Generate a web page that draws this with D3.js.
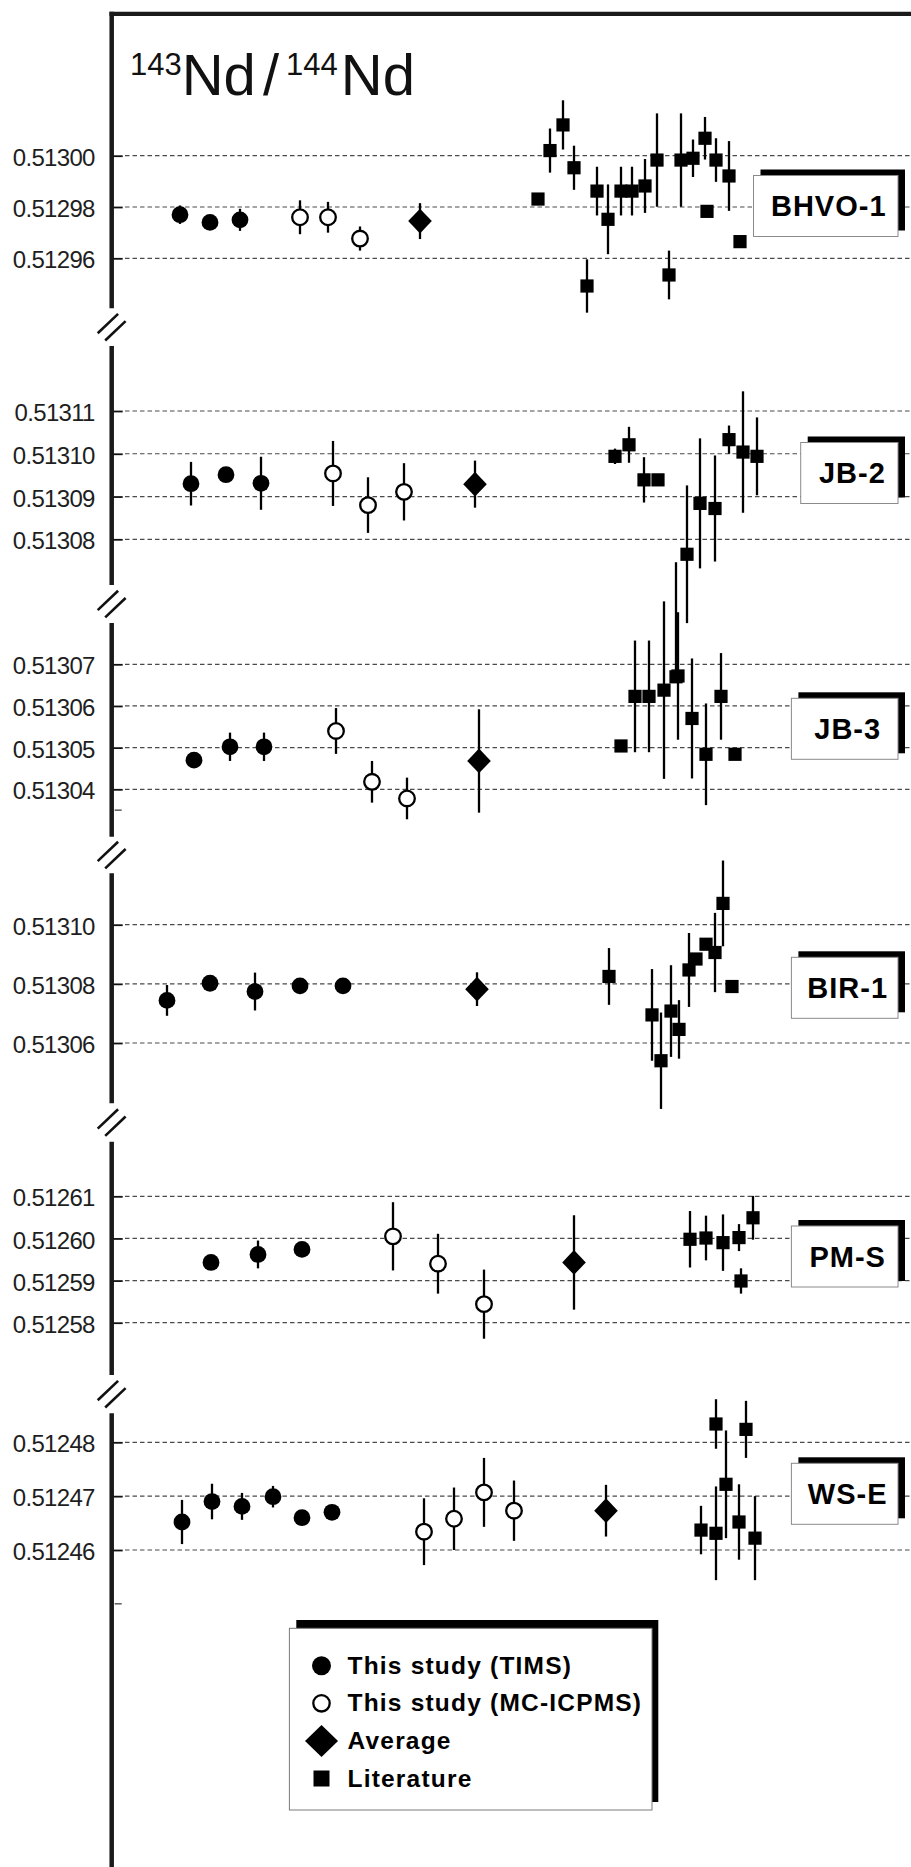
<!DOCTYPE html>
<html>
<head>
<meta charset="utf-8">
<script src="https://cdn.jsdelivr.net/npm/d3@7"></script>
<style>
  body { margin: 0; background: #fff; }
  svg { display: block; }
</style>
</head>
<body>
<svg id="chart" width="911" height="1867"></svg>
<script>
// Reference materials, top to bottom
const sampleNames = ["BHVO-1", "JB-2", "JB-3", "BIR-1", "PM-S", "WS-E"];

// Labelled gridline values for each panel
const ticksBHVO = [0.51300, 0.51298, 0.51296];
const ticksJB2  = [0.51311, 0.51310, 0.51309, 0.51308];
const ticksJB3  = [0.51307, 0.51306, 0.51305, 0.51304];
const ticksBIR  = [0.51310, 0.51308, 0.51306];
const ticksPMS  = [0.51261, 0.51260, 0.51259, 0.51258];
const ticksWSE  = [0.51248, 0.51247, 0.51246];

// Unlabelled minor ticks
const minorJB3 = [0.513035];
const minorWSE = [0.51245];

// Each point: [plot position, 143Nd/144Nd, error] or [pos, value, error below, error above]
const bhvoTims = [[6.9, 0.5129770, 0.0000036], [9.9, 0.5129740, 0], [12.9, 0.5129750, 0.0000043]];
const bhvoMc   = [[18.9, 0.5129760, 0.0000066], [21.7, 0.5129760, 0.0000060], [24.9, 0.5129677, 0.0000047]];
const bhvoAvg  = [[30.9, 0.5129745, 0.0000070]];
const bhvoLit  = [
  [42.7, 0.5129831, 0], [43.9, 0.5130020, 0.0000086], [45.2, 0.5130120, 0.0000096],
  [46.3, 0.5129953, 0.0000086], [47.6, 0.5129492, 0.0000104], [48.6, 0.5129862, 0.0000095],
  [49.7, 0.5129752, 0.0000136], [51.0, 0.5129862, 0.0000095], [52.1, 0.5129862, 0.0000095],
  [53.4, 0.5129882, 0.0000105], [54.6, 0.5129983, 0.0000182], [55.8, 0.5129535, 0.0000095],
  [57.0, 0.5129983, 0.0000182], [58.2, 0.5129990, 0.0000073], [59.4, 0.5130068, 0.0000083],
  [59.6, 0.5129783, 0], [60.5, 0.5129983, 0.0000085], [61.8, 0.5129921, 0.0000136],
  [62.9, 0.5129665, 0]
];

const jb2Tims = [[8.0, 0.5130930, 0.0000051], [11.5, 0.5130951, 0], [15.0, 0.5130931, 0.0000062]];
const jb2Mc   = [[22.2, 0.5130954, 0.0000076], [25.7, 0.5130880, 0.0000065], [29.3, 0.5130911, 0.0000067]];
const jb2Avg  = [[36.4, 0.5130929, 0.0000055]];
const jb2Lit  = [
  [50.4, 0.5130994, 0.0000018], [51.8, 0.5131021, 0.0000042], [53.3, 0.5130939, 0.0000053],
  [54.7, 0.5130939, 0], [57.6, 0.5130765, 0.0000161], [58.9, 0.5130884, 0.0000152],
  [60.4, 0.5130872, 0.0000124], [61.8, 0.5131033, 0.0000033], [63.2, 0.5131004, 0.0000142],
  [64.6, 0.5130994, 0.0000091]
];

const jb3Tims = [[8.3, 0.5130470, 0], [11.9, 0.5130502, 0.0000034], [15.3, 0.5130502, 0.0000034]];
const jb3Mc   = [[22.5, 0.5130540, 0.0000055], [26.1, 0.5130418, 0.0000050], [29.6, 0.5130378, 0.0000050]];
const jb3Avg  = [[36.8, 0.5130468, 0.0000124]];
const jb3Lit  = [
  [51.0, 0.5130504, 0], [52.4, 0.5130623, 0.0000134], [53.8, 0.5130623, 0.0000134],
  [55.3, 0.5130638, 0.0000213], [56.5, 0.5130670, 0, 0.0000275], [56.7, 0.5130672, 0.0000153],
  [58.1, 0.5130570, 0.0000144], [59.5, 0.5130484, 0.0000122], [61.0, 0.5130623, 0.0000104],
  [62.4, 0.5130484, 0]
];

const birTims = [[5.6, 0.5130744, 0.0000052], [9.9, 0.5130802, 0], [14.4, 0.5130774, 0.0000064],
                 [18.9, 0.5130793, 0], [23.2, 0.5130793, 0]];
const birMc   = [];
const birAvg  = [[36.6, 0.5130782, 0.0000057]];
const birLit  = [
  [49.8, 0.5130825, 0.0000096], [54.1, 0.5130695, 0.0000155], [55.0, 0.5130540, 0.0000163],
  [56.0, 0.5130708, 0.0000155], [56.8, 0.5130646, 0.0000099], [57.8, 0.5130847, 0.0000125],
  [58.5, 0.5130884, 0], [59.5, 0.5130934, 0], [60.4, 0.5130906, 0.0000134],
  [61.2, 0.5131072, 0.0000145], [62.1, 0.5130791, 0]
];

const pmsTims = [[10.0, 0.5125943, 0], [14.7, 0.5125962, 0.0000033], [19.1, 0.5125974, 0]];
const pmsMc   = [[28.2, 0.5126005, 0.0000081], [32.7, 0.5125940, 0.0000071], [37.3, 0.5125844, 0.0000082]];
const pmsAvg  = [[46.3, 0.5125943, 0.0000112]];
const pmsLit  = [
  [57.9, 0.5125998, 0.0000067], [59.5, 0.5126001, 0.0000053], [61.2, 0.5125990, 0.0000067],
  [62.8, 0.5126002, 0.0000032], [63.0, 0.5125899, 0.0000030], [64.2, 0.5126049, 0.0000052]
];

const wseTims = [[7.1, 0.5124652, 0.0000041], [10.1, 0.5124690, 0.0000033], [13.1, 0.5124681, 0.0000025],
                 [16.2, 0.5124699, 0.0000020], [19.1, 0.5124660, 0], [22.1, 0.5124670, 0]];
const wseMc   = [[31.3, 0.5124634, 0.0000062], [34.3, 0.5124658, 0.0000058], [37.3, 0.5124707, 0.0000064],
                 [40.3, 0.5124673, 0.0000056]];
const wseAvg  = [[49.5, 0.5124673, 0.0000048]];
const wseLit  = [
  [59.0, 0.5124637, 0.0000045], [60.5, 0.5124834, 0.0000046], [60.5, 0.5124631, 0.0000087],
  [61.5, 0.5124722, 0.0000100], [62.8, 0.5124652, 0.0000070], [63.5, 0.5124824, 0.0000053],
  [64.4, 0.5124622, 0.0000078]
];

const legendLabels = ["This study (TIMS)", "This study (MC-ICPMS)", "Average", "Literature"];

// ---- page layout (pixels) ----
// seg: extent of the y-axis segment, grid: pixel rows of first and last labelled tick,
// box: top-left corner and width of the sample label box
const layout = [
  { seg: [11.7, 308.3],   grid: [155.7, 258.3],   box: [753.5, 175.5, 144.5] },
  { seg: [346, 585],      grid: [411, 539.3],     box: [800.7, 442.5, 97.3] },
  { seg: [623, 836.7],    grid: [664.3, 789.3],   box: [791.4, 698.3, 106.6] },
  { seg: [873.3, 1103.3], grid: [924.7, 1043],    box: [791.4, 957.3, 106.6] },
  { seg: [1141.7, 1375],  grid: [1196.3, 1322.7], box: [791.4, 1226, 106.6] },
  { seg: [1413.3, 1867],  grid: [1442.3, 1550],   box: [791.4, 1463.3, 106.6] }
];

const panels = [
  { ticks: ticksBHVO, minor: [],       tims: bhvoTims, mc: bhvoMc, avg: bhvoAvg, lit: bhvoLit },
  { ticks: ticksJB2,  minor: [],       tims: jb2Tims,  mc: jb2Mc,  avg: jb2Avg,  lit: jb2Lit },
  { ticks: ticksJB3,  minor: minorJB3, tims: jb3Tims,  mc: jb3Mc,  avg: jb3Avg,  lit: jb3Lit },
  { ticks: ticksBIR,  minor: [],       tims: birTims,  mc: birMc,  avg: birAvg,  lit: birLit },
  { ticks: ticksPMS,  minor: [],       tims: pmsTims,  mc: pmsMc,  avg: pmsAvg,  lit: pmsLit },
  { ticks: ticksWSE,  minor: minorWSE, tims: wseTims,  mc: wseMc,  avg: wseAvg,  lit: wseLit }
].map((p, i) => Object.assign(p, { name: sampleNames[i] }, layout[i]));

const svg = d3.select("#chart");
const AXIS_X = 111.7;
const RIGHT = 911;
const x = d3.scaleLinear().domain([0, 80]).range([111, 911]);
const fmt = d3.format(".5f");

const lo = p => p[1] - p[2];
const hi = p => p[1] + (p.length > 3 ? p[3] : p[2]);

// marker shapes
const diamondPath = (w, h) => `M0,${-h}L${w},0L0,${h}L${-w},0Z`;

function drawMarkers(g, data, kind, y) {
  const sel = g.selectAll(null).data(data).enter();
  if (kind === "tims") {
    sel.append("circle").attr("cx", d => x(d[0])).attr("cy", d => y(d[1]))
      .attr("r", 8.4).attr("fill", "#000");
  } else if (kind === "mc") {
    sel.append("circle").attr("cx", d => x(d[0])).attr("cy", d => y(d[1]))
      .attr("r", 7.8).attr("fill", "#fff").attr("stroke", "#000").attr("stroke-width", 2.3);
  } else if (kind === "avg") {
    sel.append("path").attr("d", diamondPath(11.8, 12.4))
      .attr("transform", d => `translate(${x(d[0])},${y(d[1])})`).attr("fill", "#000");
  } else {
    sel.append("rect").attr("x", d => x(d[0]) - 6.6).attr("y", d => y(d[1]) - 6.6)
      .attr("width", 13.2).attr("height", 13.2).attr("fill", "#000");
  }
}

panels.forEach(p => {
  const y = d3.scaleLinear()
    .domain([p.ticks[0], p.ticks[p.ticks.length - 1]])
    .range(p.grid);
  const g = svg.append("g").attr("class", "panel");

  // dashed gridlines
  g.append("g").selectAll("line").data(p.ticks).enter().append("line")
    .attr("x1", 125).attr("x2", RIGHT)
    .attr("y1", d => y(d)).attr("y2", d => y(d))
    .attr("stroke", "#4a4a4a").attr("stroke-width", 1.2)
    .attr("stroke-dasharray", "4.5 3");

  // axis ticks + labels
  const ax = g.append("g").attr("transform", `translate(${AXIS_X},0)`)
    .call(d3.axisLeft(y).tickValues(p.ticks).tickFormat(fmt)
      .tickSize(-11).tickSizeOuter(0).tickPadding(17));
  ax.select(".domain").remove();
  ax.selectAll(".tick line").attr("stroke", "#111").attr("stroke-width", 1.8);
  ax.selectAll(".tick text")
    .attr("dy", "0.4em")
    .attr("fill", "#1e1e1e")
    .style("font-family", "'Liberation Sans', Arial, sans-serif")
    .style("font-size", "24px")
    .style("letter-spacing", "-0.7px");

  // minor ticks
  g.selectAll(null).data(p.minor).enter().append("line")
    .attr("x1", AXIS_X + 3).attr("x2", AXIS_X + 10)
    .attr("y1", d => y(d)).attr("y2", d => y(d))
    .attr("stroke", "#333").attr("stroke-width", 1.2);

  // axis segment
  g.append("line").attr("x1", AXIS_X).attr("x2", AXIS_X)
    .attr("y1", p.seg[0]).attr("y2", p.seg[1])
    .attr("stroke", "#1a1a1a").attr("stroke-width", 4.5);

  // error bars
  const all = [].concat(p.tims, p.mc, p.avg, p.lit).filter(d => hi(d) !== lo(d));
  g.append("g").selectAll("line").data(all).enter().append("line")
    .attr("x1", d => x(d[0])).attr("x2", d => x(d[0]))
    .attr("y1", d => y(hi(d))).attr("y2", d => y(lo(d)))
    .attr("stroke", "#000").attr("stroke-width", 2.3);

  // markers
  const mg = g.append("g");
  drawMarkers(mg, p.tims, "tims", y);
  drawMarkers(mg, p.mc, "mc", y);
  drawMarkers(mg, p.avg, "avg", y);
  drawMarkers(mg, p.lit, "lit", y);

  // sample label box with offset shadow
  const [bx, by, bw] = p.box;
  const bh = 61;
  g.append("rect").attr("x", bx + 7).attr("y", by - 6).attr("width", bw).attr("height", bh)
    .attr("fill", "#000");
  g.append("rect").attr("x", bx).attr("y", by).attr("width", bw).attr("height", bh)
    .attr("fill", "#fff").attr("stroke", "#8a8a8a").attr("stroke-width", 1);
  g.append("text").attr("x", bx + bw / 2 + 3).attr("y", by + bh / 2 + 10.3)
    .attr("text-anchor", "middle")
    .style("font-family", "'Liberation Sans', Arial, sans-serif")
    .style("font-weight", "bold").style("font-size", "29px").style("letter-spacing", "1px")
    .attr("fill", "#000").text(p.name);
});

// axis break marks between panels
for (let i = 0; i < panels.length - 1; i++) {
  const cy = (panels[i].seg[1] + panels[i + 1].seg[0]) / 2;
  [[-3.8, -3.6], [3.7, 3.7]].forEach(([ox, oy]) => {
    svg.append("line")
      .attr("x1", AXIS_X + ox - 10.2).attr("y1", cy + oy + 9.7)
      .attr("x2", AXIS_X + ox + 10.2).attr("y2", cy + oy - 9.7)
      .attr("stroke", "#111").attr("stroke-width", 2.6);
  });
}

// top frame line
svg.append("line").attr("x1", AXIS_X - 2.2).attr("x2", RIGHT)
  .attr("y1", 13.8).attr("y2", 13.8)
  .attr("stroke", "#1a1a1a").attr("stroke-width", 4.3);

// title: 143Nd/144Nd
const title = svg.append("text").attr("x", 130).attr("y", 95)
  .style("font-family", "'Liberation Sans', Arial, sans-serif")
  .attr("fill", "#111");
title.append("tspan").style("font-size", "31px").attr("dy", -20).text("143");
title.append("tspan").style("font-size", "58px").attr("dy", 20).text("Nd");
title.append("tspan").style("font-size", "58px").attr("dx", 7).text("/");
title.append("tspan").style("font-size", "31px").attr("dy", -20).attr("dx", 7).text("144");
title.append("tspan").style("font-size", "58px").attr("dy", 20).attr("dx", 3).text("Nd");

// legend
const lg = svg.append("g");
lg.append("rect").attr("x", 296.3).attr("y", 1620).attr("width", 362).attr("height", 182)
  .attr("fill", "#000");
lg.append("rect").attr("x", 289.4).attr("y", 1628.3).attr("width", 362.6).attr("height", 181.7)
  .attr("fill", "#fff").attr("stroke", "#7a7a7a").attr("stroke-width", 1);

const legendKinds = ["tims", "mc", "avg", "lit"];
const rows = lg.selectAll("g.row").data(legendLabels).enter().append("g")
  .attr("class", "row")
  .attr("transform", (d, i) => `translate(321.5,${1665.7 + i * 37.6})`);
rows.each(function (d, i) {
  const r = d3.select(this);
  const k = legendKinds[i];
  if (k === "tims") r.append("circle").attr("r", 9.5).attr("fill", "#000");
  if (k === "mc") r.append("circle").attr("r", 8.2).attr("fill", "#fff")
    .attr("stroke", "#000").attr("stroke-width", 2.3);
  if (k === "avg") r.append("path").attr("d", diamondPath(16.5, 16)).attr("fill", "#000");
  if (k === "lit") r.append("rect").attr("x", -8).attr("y", -8).attr("width", 16).attr("height", 16)
    .attr("fill", "#000");
});
rows.append("text").attr("x", 26).attr("y", 8)
  .style("font-family", "'Liberation Sans', Arial, sans-serif")
  .style("font-weight", "bold").style("font-size", "24.5px").style("letter-spacing", "1.2px")
  .attr("fill", "#000")
  .text(d => d);
</script>
</body>
</html>
